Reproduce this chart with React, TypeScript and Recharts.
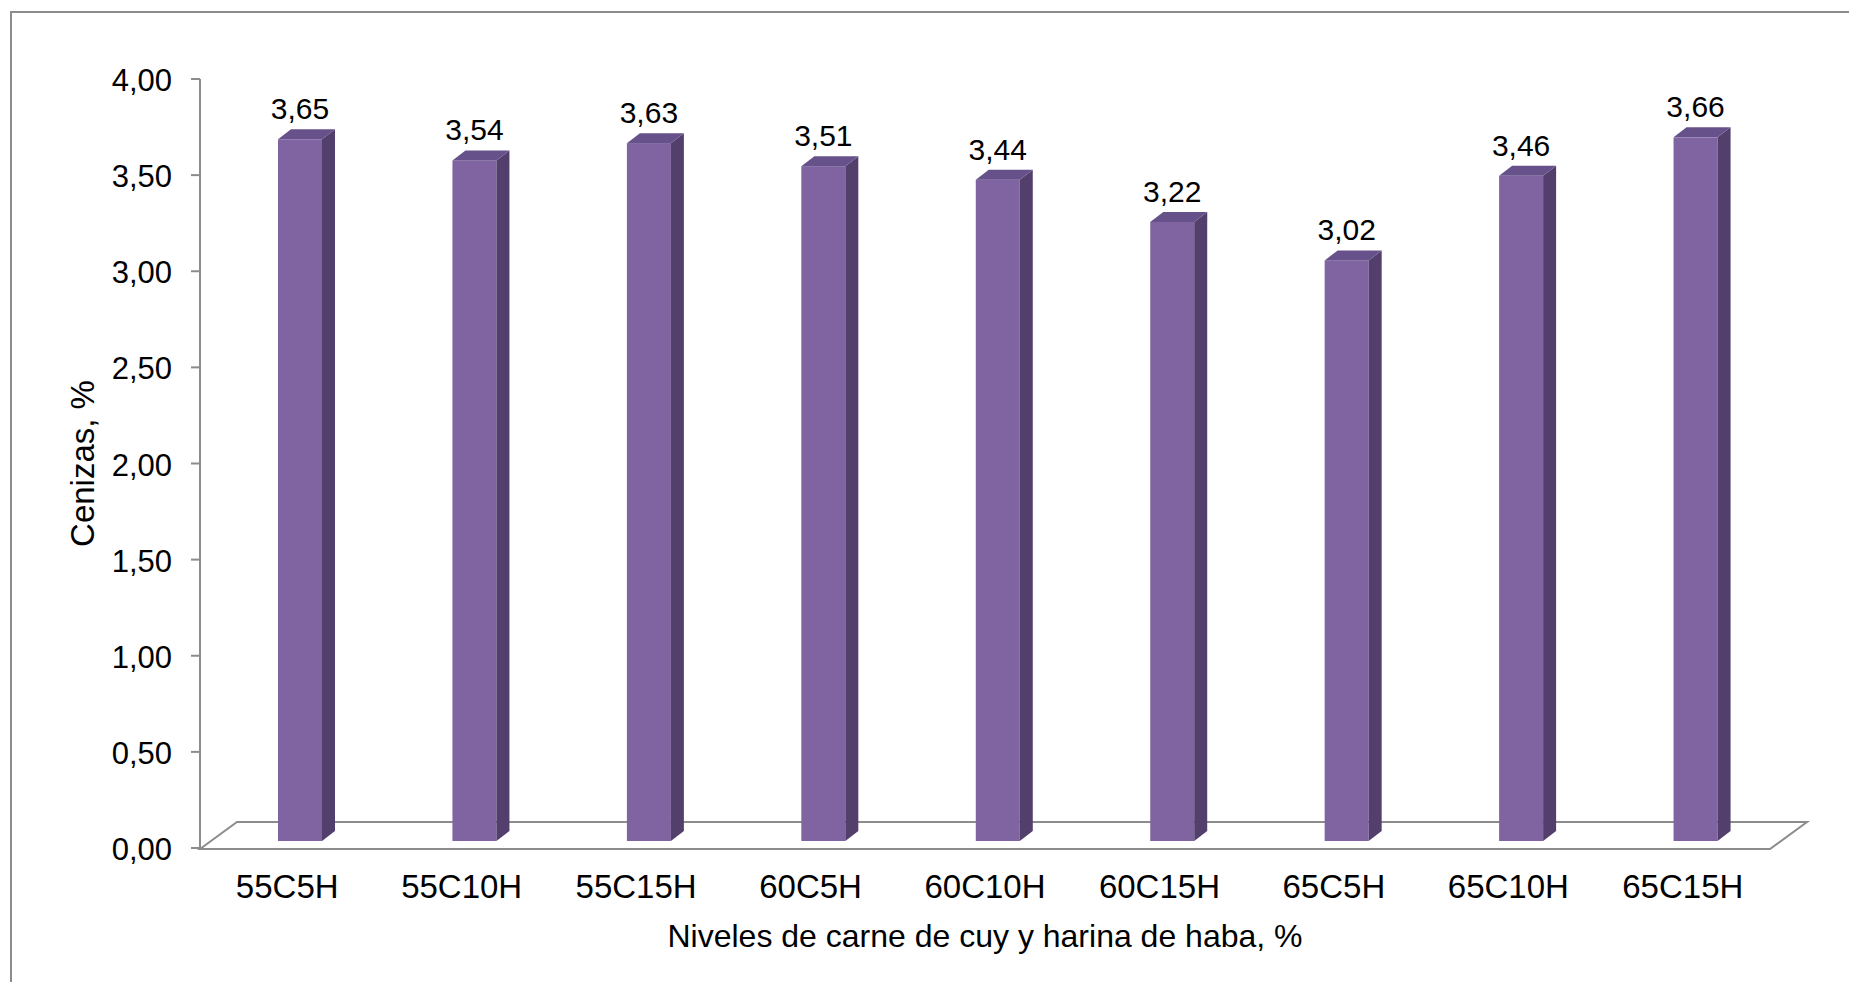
import { BarChart, Bar, XAxis, YAxis, ReferenceArea, LabelList } from "recharts";

const categories = ["55C5H", "55C10H", "55C15H", "60C5H", "60C10H", "60C15H", "65C5H", "65C10H", "65C15H"];
const ashValues = [3.65, 3.54, 3.63, 3.51, 3.44, 3.22, 3.02, 3.46, 3.66];
const yTicks = [0, 0.5, 1, 1.5, 2, 2.5, 3, 3.5, 4];

const data = categories.map((name, i) => ({ name, value: ashValues[i] }));

const FONT = "'Liberation Sans', Arial, sans-serif";
const GRID = "#8c8c8c";
// bar plane sits a bit behind the axis plane; bar depth offsets
const SHIFT_X = 13, SHIFT_Y = 7;
const DEPTH_X = 13, DEPTH_Y = 10;

const fmt = (v: number) => v.toFixed(2).replace(".", ",");

const Bar3D = (props: any) => {
  const { x, y, width, height } = props;
  if (height == null || width == null) return <g />;
  const fx = x + SHIFT_X, fy = y - SHIFT_Y, w = width, h = height;
  return (
    <g>
      <rect x={fx} y={fy} width={w} height={h} fill="#8064a2" />
      <polygon
        points={`${fx + w},${fy} ${fx + w + DEPTH_X},${fy - DEPTH_Y} ${fx + w + DEPTH_X},${fy + h - DEPTH_Y} ${fx + w},${fy + h}`}
        fill="#523f6c" />
      <polygon
        points={`${fx},${fy} ${fx + DEPTH_X},${fy - DEPTH_Y} ${fx + w + DEPTH_X},${fy - DEPTH_Y} ${fx + w},${fy}`}
        fill="#66518a" />
    </g>
  );
};

// floor of the 3D plot, drawn from the plot rectangle the reference area gets
const Floor = (props: any) => {
  const { x, y, width, height } = props;
  const b = y + height + 1;
  const dx = 37, dy = 27;
  return (
    <polygon
      points={`${x},${b} ${x + dx},${b - dy} ${x + width + dx},${b - dy} ${x + width},${b}`}
      fill="none" stroke={GRID} strokeWidth={2} />
  );
};

const XTick = ({ x, y, payload }: any) => (
  <text x={x} y={y + 50} textAnchor="middle" fontSize={33} fontFamily={FONT} fill="#000">
    {payload.value}
  </text>
);

const YTick = ({ x, y, payload }: any) => (
  <text x={x} y={y + 12} textAnchor="end" fontSize={31} fontFamily={FONT} fill="#000">
    {fmt(payload.value)}
  </text>
);

export default function App() {
  return (
    <div style={{ position: "absolute", left: 0, top: 0, width: 1849, height: 982, overflow: "hidden", background: "#fff" }}>
      <div style={{
        position: "absolute", left: 10, top: 11, width: 1900, height: 1000,
        borderTop: `2px solid ${GRID}`, borderLeft: `2px solid ${GRID}`,
      }} />
      <div style={{ position: "absolute", left: 0, top: 0 }}>
        <BarChart width={1849} height={982} data={data}
          margin={{ top: 79, right: 79, bottom: 34, left: 110 }}>
          <ReferenceArea y1={0} y2={4} shape={<Floor />} fill="none" ifOverflow="visible" />
          <XAxis dataKey="name" height={100} axisLine={false} tickLine={false}
            tickSize={0} tickMargin={0} tick={<XTick />} interval={0}
            label={({ viewBox }: any) => (
              <text x={viewBox.x + viewBox.width / 2} y={viewBox.y + 99} textAnchor="middle"
                fontSize={32} fontFamily={FONT} fill="#000">
                Niveles de carne de cuy y harina de haba, %
              </text>
            )} />
          <YAxis domain={[0, 4]} ticks={yTicks} width={90} interval={0}
            axisLine={{ stroke: GRID, strokeWidth: 2 }}
            tickLine={{ stroke: GRID, strokeWidth: 2 }} tickSize={9} tickMargin={19}
            tick={<YTick />}
            label={({ viewBox }: any) => (
              <text x={94} y={viewBox.y + viewBox.height / 2} textAnchor="middle"
                fontSize={33} fontFamily={FONT} fill="#000"
                transform={`rotate(-90 94 ${viewBox.y + viewBox.height / 2})`}>
                Cenizas, %
              </text>
            )} />
          <Bar dataKey="value" barSize={44} shape={<Bar3D />} isAnimationActive={false}>
            <LabelList dataKey="value" content={(p: any) => (
              <text x={p.x + p.width / 2 + SHIFT_X} y={p.y - SHIFT_Y - 20} textAnchor="middle"
                fontSize={30} fontFamily={FONT} fill="#000">
                {fmt(Number(p.value))}
              </text>
            )} />
          </Bar>
        </BarChart>
      </div>
    </div>
  );
}
